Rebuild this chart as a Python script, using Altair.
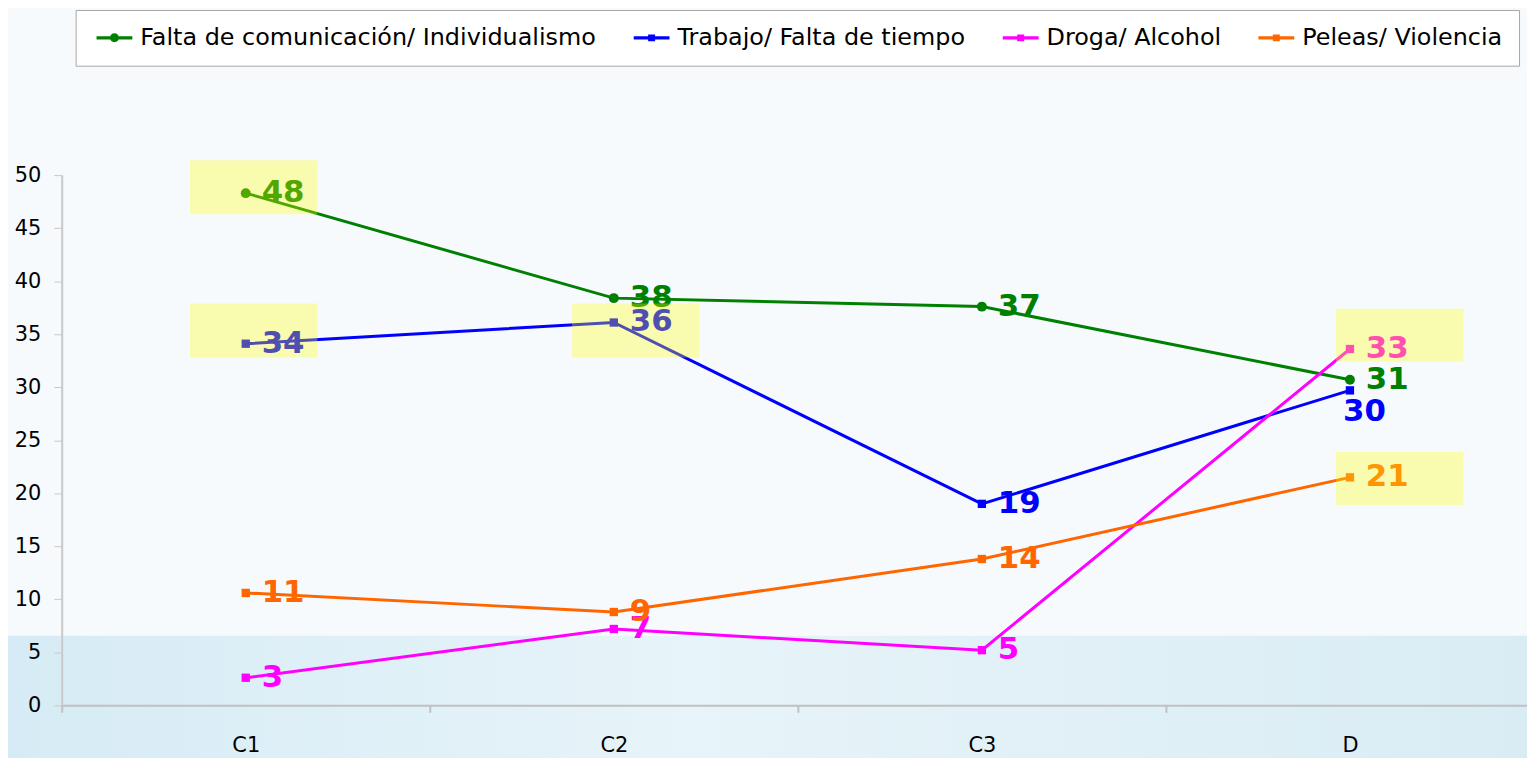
import altair as alt
import pandas as pd

categories = ["C1", "C2", "C3", "D"]
series_names = [
    "Falta de comunicación/ Individualismo",
    "Trabajo/ Falta de tiempo",
    "Droga/ Alcohol",
    "Peleas/ Violencia",
]
series_colors = ["#008000", "#0000ff", "#ff00ff", "#ff6600"]

comunicacion = [48.3, 38.4, 37.6, 30.7]
trabajo = [34.1, 36.1, 19.0, 29.7]
droga = [2.6, 7.2, 5.2, 33.6]
peleas = [10.6, 8.8, 13.8, 21.5]

comunicacion_lbl = ["48", "38", "37", "31"]
trabajo_lbl = ["34", "36", "19", "30"]
droga_lbl = ["3", "7", "5", "33"]
peleas_lbl = ["11", "9", "14", "21"]

# highlight boxes behind some labels (category, low, high)
box_cats = ["C1", "C1", "C2", "D", "D"]
box_lo = [46.3, 32.8, 32.8, 32.4, 18.9]
box_hi = [51.4, 37.9, 37.9, 37.4, 23.9]
box_shift = {"C1": 8, "C2": 22, "D": 50}

rows = []
for name, vals, lbls in zip(series_names,
                            [comunicacion, trabajo, droga, peleas],
                            [comunicacion_lbl, trabajo_lbl, droga_lbl, peleas_lbl]):
    for c, v, l in zip(categories, vals, lbls):
        rows.append({"cat": c, "series": name, "value": v, "label": l})
df = pd.DataFrame(rows)
boxes = pd.DataFrame({"cat": box_cats, "lo": box_lo, "hi": box_hi})

FONT = "DejaVu Sans"

x_enc = alt.X("cat:N", sort=categories,
              scale=alt.Scale(domain=categories, paddingInner=0, paddingOuter=0, rangeMax=1480),
              axis=alt.Axis(title=None, labelAngle=0, tickBand="extent", domainColor="#c0c0c0",
                            domainWidth=2, tickColor="#c0c0c0", tickWidth=2, tickSize=7,
                            labelPadding=22, labelFont=FONT, labelFontSize=21, labelColor="#000000",
                            grid=False, zindex=1))
y_enc = alt.Y("value:Q", scale=alt.Scale(domain=[0, 50], nice=False, zero=True),
              axis=alt.Axis(title=None, values=list(range(0, 55, 5)), tickSize=8, labelPadding=13,
                            domainColor="#c8c8c8", domainWidth=2, tickColor="#c8c8c8",
                            labelFont=FONT, labelFontSize=21, labelColor="#000000", grid=False,
                            zindex=1))
# mark colour scales (domain listed in reverse so they stay apart from the legend's scale)
mark_scale = alt.Scale(domain=series_names[::-1], range=series_colors[::-1])
stroke_enc = alt.Stroke("series:N", scale=mark_scale, legend=None)
fill_enc = alt.Fill("series:N", scale=mark_scale, legend=None)

band = alt.Chart(alt.Data(values=[{"k": 1}])).mark_rect(
    color=alt.LinearGradient(gradient="linear", x1=0, x2=1, y1=0, y2=0,
                             stops=[alt.GradientStop(offset=0, color="#d6ebf5"),
                                    alt.GradientStop(offset=0.45, color="#e7f4f9"),
                                    alt.GradientStop(offset=1, color="#d9ecf4")])
).encode(x=alt.value(-62), x2=alt.value(1480), y=alt.value(463), y2=alt.value(620))

lines = alt.Chart(df).mark_line(strokeWidth=3).encode(x=x_enc, y=y_enc, stroke=stroke_enc, detail="series:N")

circles = alt.Chart(df).transform_filter(alt.datum.series == series_names[0]).mark_point(
    filled=True, opacity=1, size=100, shape="circle", strokeWidth=0
).encode(x=x_enc, y=y_enc, fill=fill_enc)
squares = alt.Chart(df).transform_filter(alt.datum.series != series_names[0]).mark_point(
    filled=True, opacity=1, size=70, shape="square", strokeWidth=0
).encode(x=x_enc, y=y_enc, fill=fill_enc)

is_special = "datum.cat == 'D' && datum.series == 'Trabajo/ Falta de tiempo'"
labels = alt.Chart(df).transform_filter("!(" + is_special + ")").mark_text(
    align="left", baseline="middle", dx=16, font=FONT, fontWeight="bold", fontSize=31
).encode(x=x_enc, y=y_enc, text="label:N", fill=fill_enc)
labels_special = alt.Chart(df).transform_filter(is_special).mark_text(
    align="left", baseline="middle", dx=-7, dy=22, font=FONT, fontWeight="bold", fontSize=31
).encode(x=x_enc, y=y_enc, text="label:N", fill=fill_enc)

box_layers = []
for c, off in box_shift.items():
    box_layers.append(
        alt.Chart(boxes).transform_filter(alt.datum.cat == c).mark_rect(
            width=128, xOffset=off, color="#ffff00", opacity=0.31
        ).encode(x=x_enc, y=alt.Y("lo:Q", scale=alt.Scale(domain=[0, 50], nice=False)), y2="hi:Q")
    )

line_part = "M-0.583,-0.13H2.417V0.13H-0.583Z"
legend_shapes = [
    line_part + " M1.292,0 A0.375,0.375 0 1,1 0.542,0 A0.375,0.375 0 1,1 1.292,0Z",
    line_part + " M0.625,-0.29H1.208V0.29H0.625Z",
    line_part + " M0.625,-0.29H1.208V0.29H0.625Z",
    line_part + " M0.625,-0.29H1.208V0.29H0.625Z",
]
leg = alt.Legend(title=None, orient="none", legendX=14, legendY=-166, direction="horizontal",
                 columns=4, padding=16, strokeColor="#a6a6a6", fillColor="#ffffff",
                 symbolSize=576, symbolStrokeWidth=0, symbolOpacity=1, labelOffset=25,
                 columnPadding=32, labelFont=FONT, labelFontSize=24, labelColor="#000000",
                 labelLimit=700)
legend_layer = alt.Chart(df).mark_point(filled=True, size=0, strokeWidth=0).encode(
    x=x_enc, y=y_enc,
    color=alt.Color("series:N", scale=alt.Scale(domain=series_names, range=series_colors), legend=leg),
    shape=alt.Shape("series:N", scale=alt.Scale(domain=series_names, range=legend_shapes), legend=leg),
)

chart = alt.layer(band, lines, circles, squares, labels, labels_special, *box_layers, legend_layer).properties(
    width=1473, height=533,
    autosize=alt.AutoSizeParams(type="none"),
    padding={"left": 54, "top": 166, "right": 0, "bottom": 60},
).configure(background="#f6fafd").configure_view(stroke=None)

chart.save("out.html", embed_options={"renderer": "svg", "actions": False})
